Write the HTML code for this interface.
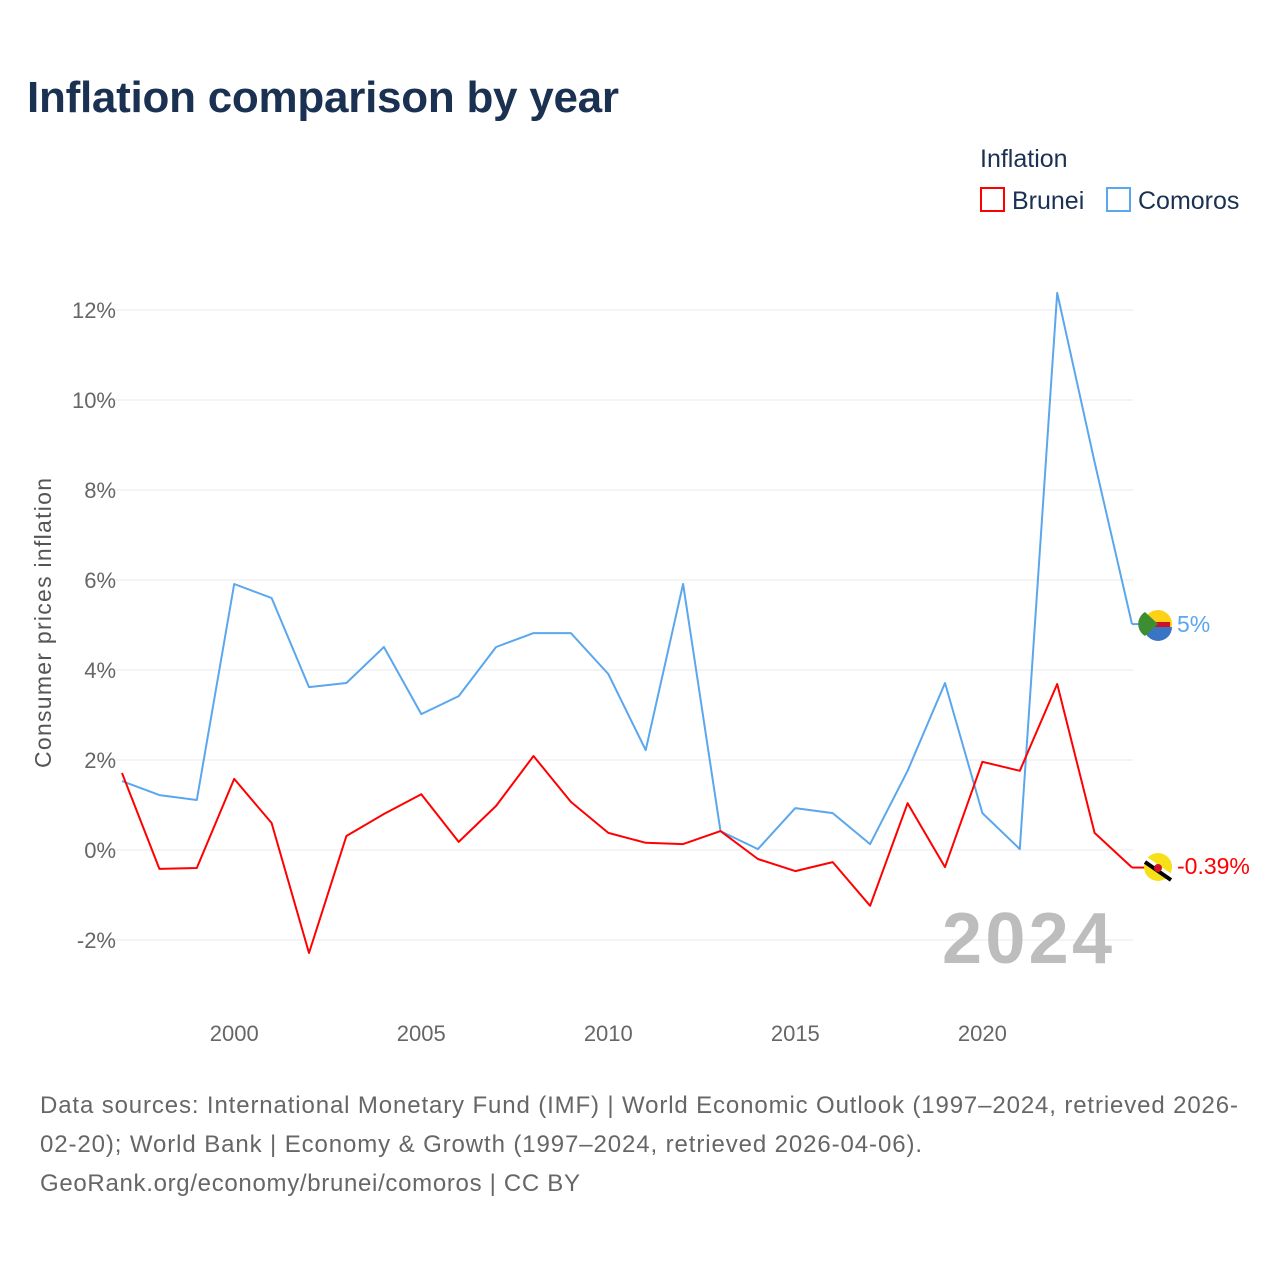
<!DOCTYPE html>
<html><head><meta charset="utf-8"><style>
body{margin:0;background:#fff;font-family:"Liberation Sans",sans-serif;}
#wrap{position:relative;width:1280px;height:1280px;overflow:hidden;}
</style></head><body>
<div id="wrap">
<svg id="chart" width="1280" height="1280">
<text x="27" y="112" font-size="44" font-weight="bold" fill="#1a3152" textLength="592">Inflation comparison by year</text>
<text x="980" y="167" font-size="25" fill="#1a3152">Inflation</text>
<g><rect x="981" y="188" width="23" height="23" fill="none" stroke="#f00" stroke-width="2"/><text x="1012" y="209" font-size="25" fill="#1a3152">Brunei</text></g>
<g><rect x="1107" y="188" width="23" height="23" fill="none" stroke="#5aa7ee" stroke-width="2"/><text x="1138" y="209" font-size="25" fill="#1a3152">Comoros</text></g>
<g id="grid"></g><g id="yt"></g><g id="xt"></g>
<text x="1112" y="963" font-size="72" font-weight="bold" fill="#bdbdbd" text-anchor="end" textLength="170">2024</text>
<text transform="translate(51,623) rotate(-90)" font-size="23" fill="#555" text-anchor="middle" textLength="290">Consumer prices inflation</text>
<g id="series"></g>
<g><circle cx="1158" cy="624" r="14" fill="#fcd116"/><path d="M1144,627 h28 a14,14 0 0 1 -28,0z" fill="#3a75c4"/><rect x="1148" y="622" width="22" height="5" fill="#ce1126"/><path d="M1158,624 L1145,612 A14,14 0 0 0 1145,636z" fill="#3d8e33"/></g>
<text x="1177" y="632" font-size="23" fill="#5aa7ee">5%</text>
<g><circle cx="1158" cy="867" r="14" fill="#f7e017"/><path d="M1145,858 L1171,876" stroke="#fff" stroke-width="4"/><path d="M1145,862 L1171,880" stroke="#000" stroke-width="4"/><circle cx="1158" cy="868" r="4" fill="#cf1126"/></g>
<text x="1177" y="874" font-size="23" fill="#f00">-0.39%</text>
<g font-size="24" fill="#666">
<text x="40" y="1113" textLength="1198">Data sources: International Monetary Fund (IMF) | World Economic Outlook (1997–2024, retrieved 2026-</text>
<text x="40" y="1152" textLength="882">02-20); World Bank | Economy &amp; Growth (1997–2024, retrieved 2026-04-06).</text>
<text x="40" y="1191" textLength="540">GeoRank.org/economy/brunei/comoros | CC BY</text>
</g>
</svg>
</div>
<script>
const years=[1997,1998,1999,2000,2001,2002,2003,2004,2005,2006,2007,2008,2009,2010,2011,2012,2013,2014,2015,2016,2017,2018,2019,2020,2021,2022,2023,2024];
const comoros=[1.53,1.22,1.11,5.91,5.6,3.62,3.71,4.51,3.02,3.42,4.51,4.82,4.82,3.91,2.22,5.91,0.42,0.02,0.93,0.82,0.13,1.76,3.71,0.82,0.02,12.38,8.62,5.02];
const brunei=[1.71,-0.42,-0.4,1.58,0.6,-2.29,0.31,0.8,1.24,0.18,0.98,2.09,1.07,0.38,0.16,0.13,0.42,-0.2,-0.47,-0.27,-1.24,1.04,-0.38,1.96,1.76,3.69,0.38,-0.39];
const yTicks=[-2,0,2,4,6,8,10,12];
const xTicks=[2000,2005,2010,2015,2020];
const NS="http://www.w3.org/2000/svg";
const X=y=>122+(y-1997)*(1132-122)/27;
const Y=v=>850-v*45;
function mk(t,a,p){const e=document.createElementNS(NS,t);for(const k in a)e.setAttribute(k,a[k]);p.appendChild(e);return e;}
const grid=document.getElementById('grid'),yt=document.getElementById('yt'),xt=document.getElementById('xt'),ser=document.getElementById('series');
yTicks.forEach(v=>{
 const l=mk('line',{x1:115,x2:1133,y1:Y(v),y2:Y(v),stroke:'#e8e8e8','stroke-width':1},grid);
 
 
 const t=mk('text',{x:116,y:Y(v)+8,'font-size':22,fill:'#666','text-anchor':'end'},yt);
 t.textContent=v+'%';
 
 
});
xTicks.forEach(v=>{
 const t=mk('text',{x:X(v),y:1041,'font-size':22,fill:'#666','text-anchor':'middle'},xt);
 t.textContent=v;
 
 
});
function line(vals,col,name){
 const d=vals.map((v,i)=>(i?'L':'M')+X(years[i]).toFixed(1)+','+Y(v).toFixed(1)).join(' ');
 const p=mk('path',{d:d,fill:'none',stroke:col,'stroke-width':2,'stroke-linejoin':'round'},ser);
 
 
 const c=mk('line',{x1:X(2024),x2:1146,y1:Y(vals[vals.length-1]),y2:Y(vals[vals.length-1]),stroke:col,'stroke-width':2},ser);
 
 
}
line(comoros,'#5aa7ee','comoros-line');
line(brunei,'#f00','brunei-line');
</script>
</body></html>
